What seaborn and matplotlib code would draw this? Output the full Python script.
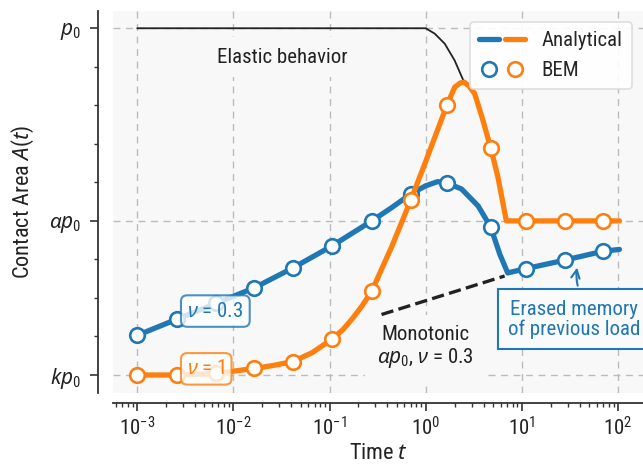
import numpy as np
import pandas as pd
import matplotlib as mpl
import matplotlib.pyplot as plt
from matplotlib.legend_handler import HandlerTuple
from matplotlib.lines import Line2D
import seaborn as sns

sns.set_theme(style='ticks')
mpl.rcParams['font.family'] = ['Roboto Condensed', 'Roboto', 'DejaVu Sans']
mpl.rcParams['mathtext.fontset'] = 'custom'
mpl.rcParams['mathtext.rm'] = 'Roboto Condensed'
mpl.rcParams['mathtext.it'] = 'Noto Sans:italic'
mpl.rcParams['mathtext.bf'] = 'Roboto Condensed:bold'

BLUE = '#1f77b4'
ORANGE = '#ff7f0e'
FS = 15

# BEM samples (log10 of time) and contact area values
bem_logt = [-3.0, -2.585, -2.18, -1.785, -1.38, -0.975, -0.56, -0.155, 0.22, 0.676, 1.04, 1.444, 1.84]
bem_nu03 = [0.203, 0.245, 0.286, 0.326, 0.378, 0.435, 0.500, 0.570, 0.598, 0.484, 0.376, 0.398, 0.421]
bem_nu1 = [0.100, 0.100, 0.104, 0.117, 0.135, 0.193, 0.318, 0.554, 0.800, 0.690, 0.500, 0.500, 0.500]

# analytical curves
an03_logt = [-3.0, -2.585, -2.18, -1.785, -1.38, -0.975, -0.56, -0.35, -0.155, 0.0, 0.125, 0.22,
             0.372, 0.545, 0.676, 0.77, 0.853, 1.04, 1.444, 1.84, 2.015]
an03_val = [0.203, 0.245, 0.286, 0.326, 0.378, 0.435, 0.500, 0.535, 0.570, 0.591, 0.602, 0.598,
            0.583, 0.539, 0.484, 0.414, 0.365, 0.376, 0.398, 0.421, 0.426]

an1_logt = [-3.0, -2.585, -2.18, -1.785, -1.58, -1.38, -1.18, -0.975, -0.86, -0.76, -0.66, -0.56,
            -0.35, -0.155, 0.0, 0.22, 0.302, 0.36, 0.40, 0.45, 0.51, 0.586, 0.676, 0.752, 0.839, 2.015]
an1_val = [0.100, 0.100, 0.104, 0.117, 0.125, 0.135, 0.158, 0.193, 0.218, 0.247, 0.280, 0.318,
           0.435, 0.554, 0.654, 0.800, 0.847, 0.858, 0.860, 0.850, 0.830, 0.769, 0.690, 0.613, 0.500, 0.500]

# elastic response and monotonic reference
el_logt = [-3.0, 0.0, 0.094, 0.198, 0.30, 0.40]
el_val = [1.0, 1.0, 0.986, 0.960, 0.917, 0.860]
mono_logt = [-0.459, 0.821]
mono_val = [0.257, 0.357]

ytick_pos = [0.1, 0.5, 1.0]
ytick_lab = [r'$kp_0$', r'$\alpha p_0$', r'$p_0$']
yminor_pos = [0.2, 0.3, 0.4, 0.6, 0.7, 0.8, 0.9]

t = lambda v: np.power(10.0, np.array(v))

fig = plt.figure(figsize=(6.43, 4.68), dpi=100)
ax = fig.add_axes([0.176, 0.160, 0.824, 0.8175])
ax.set_facecolor('#f8f8f8')

sns.lineplot(x=t(el_logt), y=el_val, ax=ax, color='#222222', lw=1.3, zorder=3)
sns.lineplot(x=t(mono_logt), y=mono_val, ax=ax, color='#222222', lw=2.4, ls='--', zorder=3)

sns.lineplot(x=t(an03_logt), y=an03_val, ax=ax, color=BLUE, lw=3.8, zorder=4)
sns.scatterplot(x=t(bem_logt), y=bem_nu03, ax=ax, marker='o', s=110, color='white',
                edgecolor=BLUE, linewidth=1.9, zorder=5)
sns.lineplot(x=t(an1_logt), y=an1_val, ax=ax, color=ORANGE, lw=3.8, zorder=6)
sns.scatterplot(x=t(bem_logt), y=bem_nu1, ax=ax, marker='o', s=110, color='white',
                edgecolor=ORANGE, linewidth=1.9, zorder=7)

ax.set_xscale('log')
ax.set_xlim(10 ** -3.25, 10 ** 2.26)
ax.set_ylim(0.053, 1.046)
ax.set_yticks(ytick_pos, ytick_lab)
ax.set_yticks(yminor_pos, minor=True)

ax.grid(True, which='major', color='#bbbbbb', lw=1.0, ls=(0, (5, 4)))
ax.set_axisbelow(True)

for s in ['top', 'right']:
    ax.spines[s].set_visible(False)
ax.spines['left'].set_position(('outward', 11))
ax.spines['bottom'].set_position(('outward', 7))
for s in ['left', 'bottom']:
    ax.spines[s].set_color('#333333')
    ax.spines[s].set_linewidth(1.3)
ax.tick_params(which='major', length=6, width=1.2, color='#333333', labelsize=FS, labelcolor='#222222')
ax.tick_params(which='minor', length=3, width=1.0, color='#333333')
ax.tick_params(axis='y', which='major', pad=6)
ax.tick_params(axis='x', which='major', pad=4)

ax.set_xlabel(r'Time $t$', fontsize=FS + 1, color='#222222', labelpad=2)
ax.set_ylabel(r'Contact Area $A(t)$', fontsize=FS + 1, color='#222222', labelpad=9)

ax.text(10 ** -1.494, 0.925, 'Elastic behavior', fontsize=FS, ha='center', va='center',
        color='#222222', bbox=dict(boxstyle='square,pad=0.5', fc='#f8f8f8', ec='none'), zorder=2)
ax.text(10 ** 0.0, 0.172, 'Monotonic\n' + r'$\alpha p_0$, $\nu$ = 0.3', fontsize=FS, ha='center',
        va='center', color='#222222', linespacing=1.1,
        bbox=dict(boxstyle='square,pad=0.6', fc='#f8f8f8', ec='none'), zorder=2)

ax.text(10 ** -2.48, 0.266, r'$\nu$ = 0.3', fontsize=FS, ha='left', va='center', color=BLUE, zorder=8,
        bbox=dict(boxstyle='round,pad=0.3', fc='white', ec=BLUE, lw=1.5, alpha=0.8))
ax.text(10 ** -2.48, 0.116, r'$\nu$ = 1', fontsize=FS, ha='left', va='center', color=ORANGE, zorder=8,
        bbox=dict(boxstyle='round,pad=0.3', fc='white', ec=ORANGE, lw=1.5, alpha=0.8))

ax.annotate('Erased memory\nof previous load', xy=(10 ** 1.58, 0.386), xytext=(10 ** 1.545, 0.245),
            fontsize=FS, ha='center', va='center', color=BLUE, linespacing=1.05, zorder=9,
            annotation_clip=False,
            bbox=dict(boxstyle='square,pad=0.5', fc='#fafafa', ec=BLUE, lw=1.5),
            arrowprops=dict(arrowstyle='->', color=BLUE, lw=1.5, relpos=(0.57, 1.0),
                            connectionstyle='arc3,rad=-0.2', shrinkA=2, shrinkB=2))

h_an = (Line2D([], [], color=BLUE, lw=3.8), Line2D([], [], color=ORANGE, lw=3.8))
h_bem = (Line2D([], [], ls='none', marker='o', ms=10.5, mfc='white', mec=BLUE, mew=1.9),
         Line2D([], [], ls='none', marker='o', ms=10.5, mfc='white', mec=ORANGE, mew=1.9))
leg = ax.legend([h_an, h_bem], ['Analytical', 'BEM'], handler_map={tuple: HandlerTuple(ndivide=None, pad=0.3)},
                loc='upper right', bbox_to_anchor=(0.979, 0.97), borderaxespad=0, fontsize=FS,
                handlelength=2.2, handletextpad=0.8, labelspacing=0.5, borderpad=0.45,
                fancybox=True, framealpha=0.9, edgecolor='#dddddd', facecolor='white')
leg.get_frame().set_linewidth(1.3)
leg.set_zorder(10)

fig.savefig('out.png', dpi=100)
